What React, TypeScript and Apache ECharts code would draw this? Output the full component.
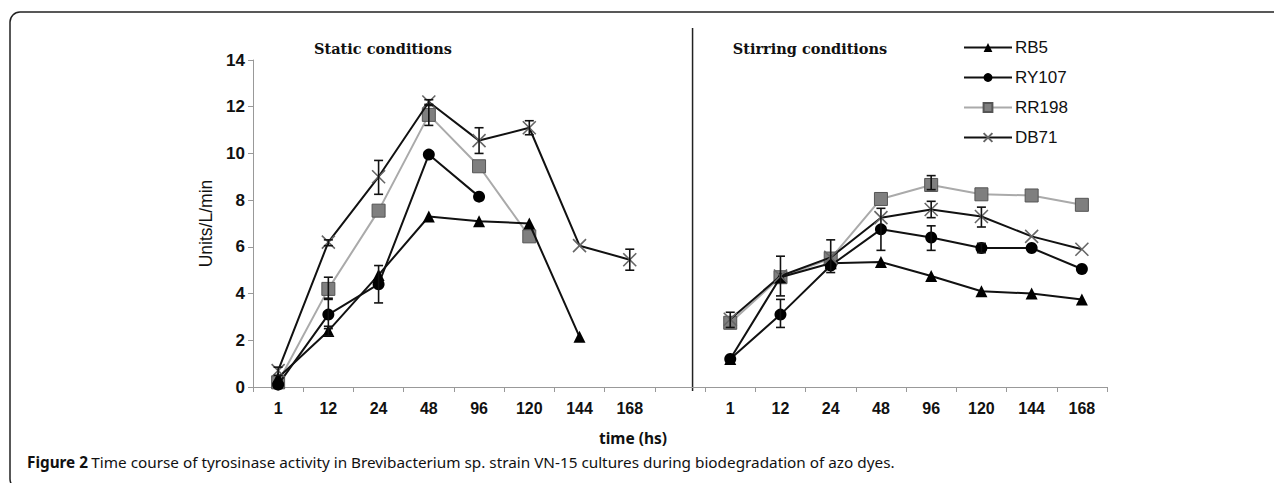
import React, { useEffect, useRef } from "react";
import * as echarts from "echarts";

const categories = ["1", "12", "24", "48", "96", "120", "144", "168", "", "1", "12", "24", "48", "96", "120", "144", "168"];
const yTicks = [0, 2, 4, 6, 8, 10, 12, 14];

// Static conditions (1..168 h)
const rb5Static = [0.4, 2.4, 4.8, 7.3, 7.1, 7.0, 2.15, null];
const ry107Static = [0.1, 3.1, 4.4, 9.95, 8.15, null, null, null];
const rr198Static = [0.2, 4.2, 7.55, 11.65, 9.45, 6.45, null, null];
const db71Static = [0.7, 6.2, 9.0, 12.2, 10.55, 11.1, 6.05, 5.45];

// Stirring conditions (1..168 h)
const rb5Stir = [1.2, 4.7, 5.3, 5.35, 4.75, 4.1, 4.0, 3.75];
const ry107Stir = [1.2, 3.1, 5.2, 6.75, 6.4, 5.95, 5.95, 5.05];
const rr198Stir = [2.75, 4.7, 5.5, 8.05, 8.65, 8.25, 8.2, 7.8];
const db71Stir = [2.9, 4.75, 5.55, 7.25, 7.6, 7.3, 6.45, 5.9];

// Error bars: [category index, low, high]
const errorBars = [
  [0, 0.5, 0.85],
  [1, 6.05, 6.3],
  [1, 3.75, 4.7],
  [1, 2.5, 3.8],
  [1, 2.2, 2.6],
  [2, 8.25, 9.7],
  [2, 3.6, 5.2],
  [3, 12.05, 12.3],
  [3, 11.2, 12.1],
  [4, 10.0, 11.1],
  [5, 10.8, 11.4],
  [7, 5.0, 5.9],
  [9, 2.55, 3.2],
  [10, 3.9, 5.6],
  [10, 2.55, 3.75],
  [11, 4.9, 6.3],
  [12, 5.85, 7.65],
  [13, 8.45, 9.05],
  [13, 7.25, 7.95],
  [13, 5.85, 6.9],
  [14, 6.85, 7.7],
  [14, 5.75, 6.15],
];

const legendNames = ["RB5", "RY107", "RR198", "DB71"];
const panelTitles = ["Static conditions", "Stirring conditions"];

const pad = (arr: (number | null)[], left: boolean) => {
  const blanks = new Array(9).fill(null);
  return left ? [...arr, ...blanks] : [...blanks, ...arr];
};

const styles: Record<string, any> = {
  RB5: {
    symbol: "triangle",
    symbolSize: 12,
    itemStyle: { color: "#000", borderColor: "#000", borderWidth: 0 },
    lineStyle: { color: "#111", width: 2 },
  },
  RY107: {
    symbol: "circle",
    symbolSize: 12,
    itemStyle: { color: "#000", borderColor: "#000", borderWidth: 0 },
    lineStyle: { color: "#111", width: 2 },
  },
  RR198: {
    symbol: "rect",
    symbolSize: 13,
    itemStyle: { color: "#7f7f7f", borderColor: "#555", borderWidth: 1 },
    lineStyle: { color: "#aaaaaa", width: 2 },
  },
  DB71: {
    symbol: "path://M0,0L10,10M10,0L0,10",
    symbolSize: 13,
    itemStyle: { color: "none", borderColor: "#666", borderWidth: 1.6 },
    lineStyle: { color: "#111", width: 2 },
  },
};

export default function App() {
  const ref = useRef<HTMLDivElement>(null);

  useEffect(() => {
    if (!ref.current) return;
    const chart = echarts.init(ref.current, null, { renderer: "svg" });

    const gridLeft = 253;
    const gridRight = 175;
    const gridTop = 60;
    const gridBottom = 104;
    const W = 1282;
    const H = 491;
    const plotW = W - gridLeft - gridRight;
    const step = plotW / categories.length;
    const dividerX = gridLeft + step * 8.75;

    const lineSeries: any[] = [];
    const groups: [string, (number | null)[], (number | null)[]][] = [
      ["RB5", rb5Static, rb5Stir],
      ["RY107", ry107Static, ry107Stir],
      ["RR198", rr198Static, rr198Stir],
      ["DB71", db71Static, db71Stir],
    ];
    groups.forEach(([name, st, sr]) => {
      [pad(st, true), pad(sr, false)].forEach((data) => {
        lineSeries.push({
          type: "line",
          name,
          data,
          connectNulls: false,
          showSymbol: true,
          ...styles[name],
          emphasis: { disabled: true },
          z: name === "RR198" ? 2 : 3,
        });
      });
    });

    const titleStyle = {
      fontFamily: "DejaVu Serif",
      fontWeight: "bold",
      fontSize: 14.5,
      fill: "#111",
      align: "center",
      verticalAlign: "middle",
    };

    const option: any = {
      animation: false,
      backgroundColor: "#fff",
      legend: {
        data: legendNames,
        orient: "vertical",
        left: 958,
        top: 34,
        itemWidth: 48,
        itemHeight: 11,
        itemGap: 13,
        textStyle: { fontFamily: "Liberation Sans", fontSize: 17, color: "#111", padding: [0, 0, 0, -2] },
      },
      grid: { left: gridLeft, right: gridRight, top: gridTop, bottom: gridBottom },
      xAxis: {
        type: "category",
        data: categories,
        boundaryGap: true,
        axisLine: { lineStyle: { color: "#999", width: 1 } },
        axisTick: { show: true, length: 5, lineStyle: { color: "#999" } },
        axisLabel: {
          interval: 0,
          margin: 13,
          fontFamily: "Liberation Sans",
          fontWeight: "bold",
          fontSize: 16,
          color: "#111",
        },
      },
      yAxis: {
        type: "value",
        min: yTicks[0],
        max: yTicks[yTicks.length - 1],
        interval: 2,
        name: "Units/L/min",
        nameLocation: "middle",
        nameGap: 36,
        nameTextStyle: { fontFamily: "Liberation Sans", fontSize: 17.5, color: "#111" },
        axisLine: { show: true, lineStyle: { color: "#999", width: 1 } },
        axisTick: { show: true, length: 5, lineStyle: { color: "#999" } },
        splitLine: { show: false },
        axisLabel: {
          margin: 8,
          fontFamily: "Liberation Sans",
          fontWeight: "bold",
          fontSize: 17,
          color: "#111",
        },
      },
      series: [
        ...lineSeries,
        {
          type: "custom",
          name: "errors",
          data: errorBars,
          encode: { x: 0, y: [1, 2] },
          z: 5,
          silent: true,
          renderItem: (params: any, api: any) => {
            const lo = api.coord([api.value(0), api.value(1)]);
            const hi = api.coord([api.value(0), api.value(2)]);
            const c = 4.5;
            const st = { stroke: "#111", lineWidth: 1.6 };
            return {
              type: "group",
              children: [
                { type: "line", shape: { x1: lo[0], y1: lo[1], x2: hi[0], y2: hi[1] }, style: st },
                { type: "line", shape: { x1: lo[0] - c, y1: lo[1], x2: lo[0] + c, y2: lo[1] }, style: st },
                { type: "line", shape: { x1: hi[0] - c, y1: hi[1], x2: hi[0] + c, y2: hi[1] }, style: st },
              ],
            };
          },
        },
      ],
      graphic: [
        {
          type: "rect",
          shape: { x: 10, y: 12, width: 1300, height: 477, r: 10 },
          style: { fill: "none", stroke: "#222", lineWidth: 1.5 },
          silent: true,
        },
        {
          type: "line",
          shape: { x1: dividerX, y1: 28, x2: dividerX, y2: H - gridBottom + 4 },
          style: { stroke: "#222", lineWidth: 1.5 },
          silent: true,
        },
        { type: "text", x: 383, y: 48, style: { text: panelTitles[0], ...titleStyle } },
        { type: "text", x: 810, y: 48, style: { text: panelTitles[1], ...titleStyle } },
        {
          type: "text",
          x: 633,
          y: 438,
          style: {
            text: "time (hs)",
            fontFamily: "Noto Sans",
            fontWeight: "bold",
            fontSize: 15.5,
            fill: "#111",
            align: "center",
            verticalAlign: "middle",
          },
        },
        {
          type: "text",
          x: 27,
          y: 462,
          style: {
            text: "{b|Figure 2} {n|Time course of tyrosinase activity in Brevibacterium sp. strain VN-15 cultures during biodegradation of azo dyes.}",
            verticalAlign: "middle",
            rich: {
              b: { fontFamily: "Noto Sans", fontWeight: "bold", fontSize: 15.3, fill: "#111" },
              n: { fontFamily: "Noto Sans", fontSize: 15.3, fill: "#111" },
            },
          },
        },
      ],
    };

    chart.setOption(option);
    return () => chart.dispose();
  }, []);

  return <div ref={ref} style={{ width: 1282, height: 491, margin: -8 }} />;
}
